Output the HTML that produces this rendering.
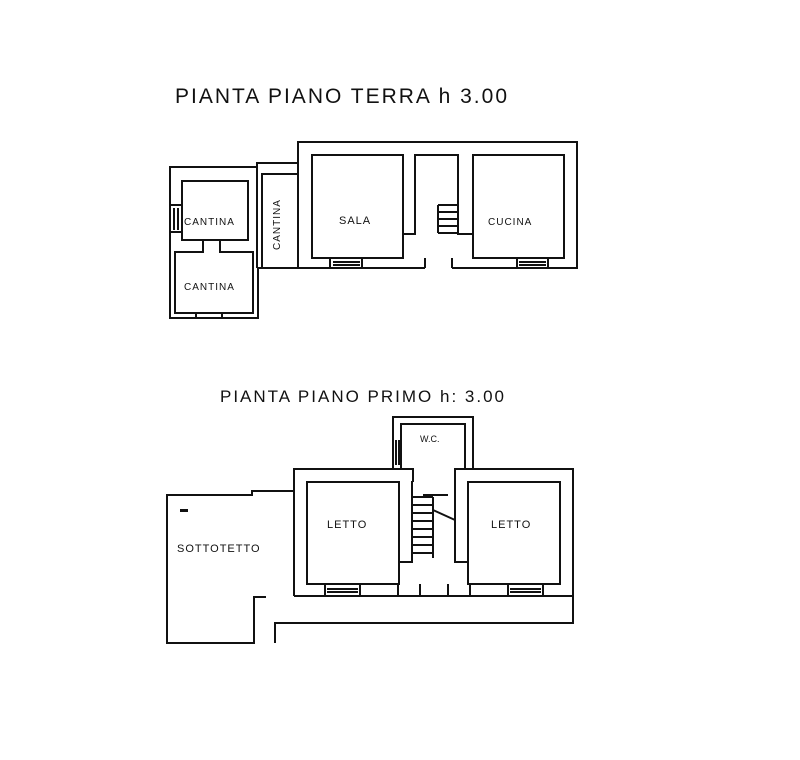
<!DOCTYPE html>
<html><head><meta charset="utf-8"><style>
html,body{margin:0;padding:0;background:#fff;width:800px;height:760px;overflow:hidden}
svg{display:block}
text{font-family:"Liberation Sans",sans-serif;fill:#111}
</style></head><body>
<svg width="800" height="760" viewBox="0 0 800 760" xmlns="http://www.w3.org/2000/svg">
<rect width="800" height="760" fill="#fff"/>
<g stroke="#111" stroke-width="2" fill="none">
<path d="M298,268 V142 H577 V268 H452"/>
<path d="M425,268 H298"/>
<rect x="312" y="155" width="91" height="103"/>
<rect x="473" y="155" width="91" height="103"/>
<path d="M403,155 V234 H415 V155 H458 V234 H473"/>
<path d="M425,268 V258 M452,268 V258"/>
<path d="M330,258 V268 M362,258 V268 M333,262 H360 M333,265 H360"/>
<path d="M517,258 V268 M548,258 V268 M519,262 H546 M519,265 H546"/>
<path d="M438,205 H458 M438,212 H458 M438,219 H458 M438,226 H458 M438,233 H458 M438,205 V233"/>
<path d="M298,163 H257 V268 M298,174 H262 V268 M257,268 H298"/>
<path d="M257,167 H170 V318 H258 V268"/>
<rect x="182" y="181" width="66" height="59"/>
<path d="M203,240 V252 H175 V313 H253 V252 H220 V240"/>
<path d="M170,205 H182 M170,232 H182 M174,208 V230 M178,208 V230"/>
<path d="M196,313 V318 M222,313 V318"/>
<path d="M294,596 V469 H413 V482 M455,482 V469 H573 V596 H294"/>
<rect x="307" y="482" width="92" height="102"/>
<rect x="468" y="482" width="92" height="102"/>
<path d="M399,482 V562 H412 V482 H413 M455,482 V562 H468"/>
<path d="M393,469 V417 H473 V469 M401,469 V424 H465 V469"/>
<path d="M396,440 V465 M399,440 V465"/>
<path d="M398,584 V596 M420,584 V596 M448,584 V596 M470,584 V596"/>
<path d="M325,584 V596 M360,584 V596 M327,589 H358 M327,592 H358"/>
<path d="M508,584 V596 M543,584 V596 M510,589 H541 M510,592 H541"/>
<path d="M412,497 H433 M412,505 H433 M412,513 H433 M412,521 H433 M412,529 H433 M412,537 H433 M412,545 H433 M412,553 H433 M433,497 V558 M423,495 H448 M433,510 L455,520"/>
<path d="M294,491 H252 V495 H167 V643 H254 V597 H266"/>
<path d="M275,643 V623 H573 V596"/>
</g>
<text x="175" y="103" font-size="21" letter-spacing="2">PIANTA PIANO TERRA  h 3.00</text>
<text x="220" y="402" font-size="17" letter-spacing="2">PIANTA PIANO PRIMO  h: 3.00</text>
<text x="184" y="225" font-size="10" letter-spacing="1">CANTINA</text>
<text x="184" y="290" font-size="10" letter-spacing="1">CANTINA</text>
<text x="339" y="224" font-size="11" letter-spacing="1">SALA</text>
<text x="488" y="225" font-size="10" letter-spacing="1">CUCINA</text>
<text x="0" y="0" font-size="10" letter-spacing="1" transform="translate(280,250) rotate(-90)">CANTINA</text>
<text x="420" y="442" font-size="9">W.C.</text>
<text x="327" y="528" font-size="11" letter-spacing="1">LETTO</text>
<text x="491" y="528" font-size="11" letter-spacing="1">LETTO</text>
<text x="177" y="552" font-size="11" letter-spacing="1">SOTTOTETTO</text>
<rect x="180" y="509" width="8" height="3" fill="#111"/>
</svg>
</body></html>
